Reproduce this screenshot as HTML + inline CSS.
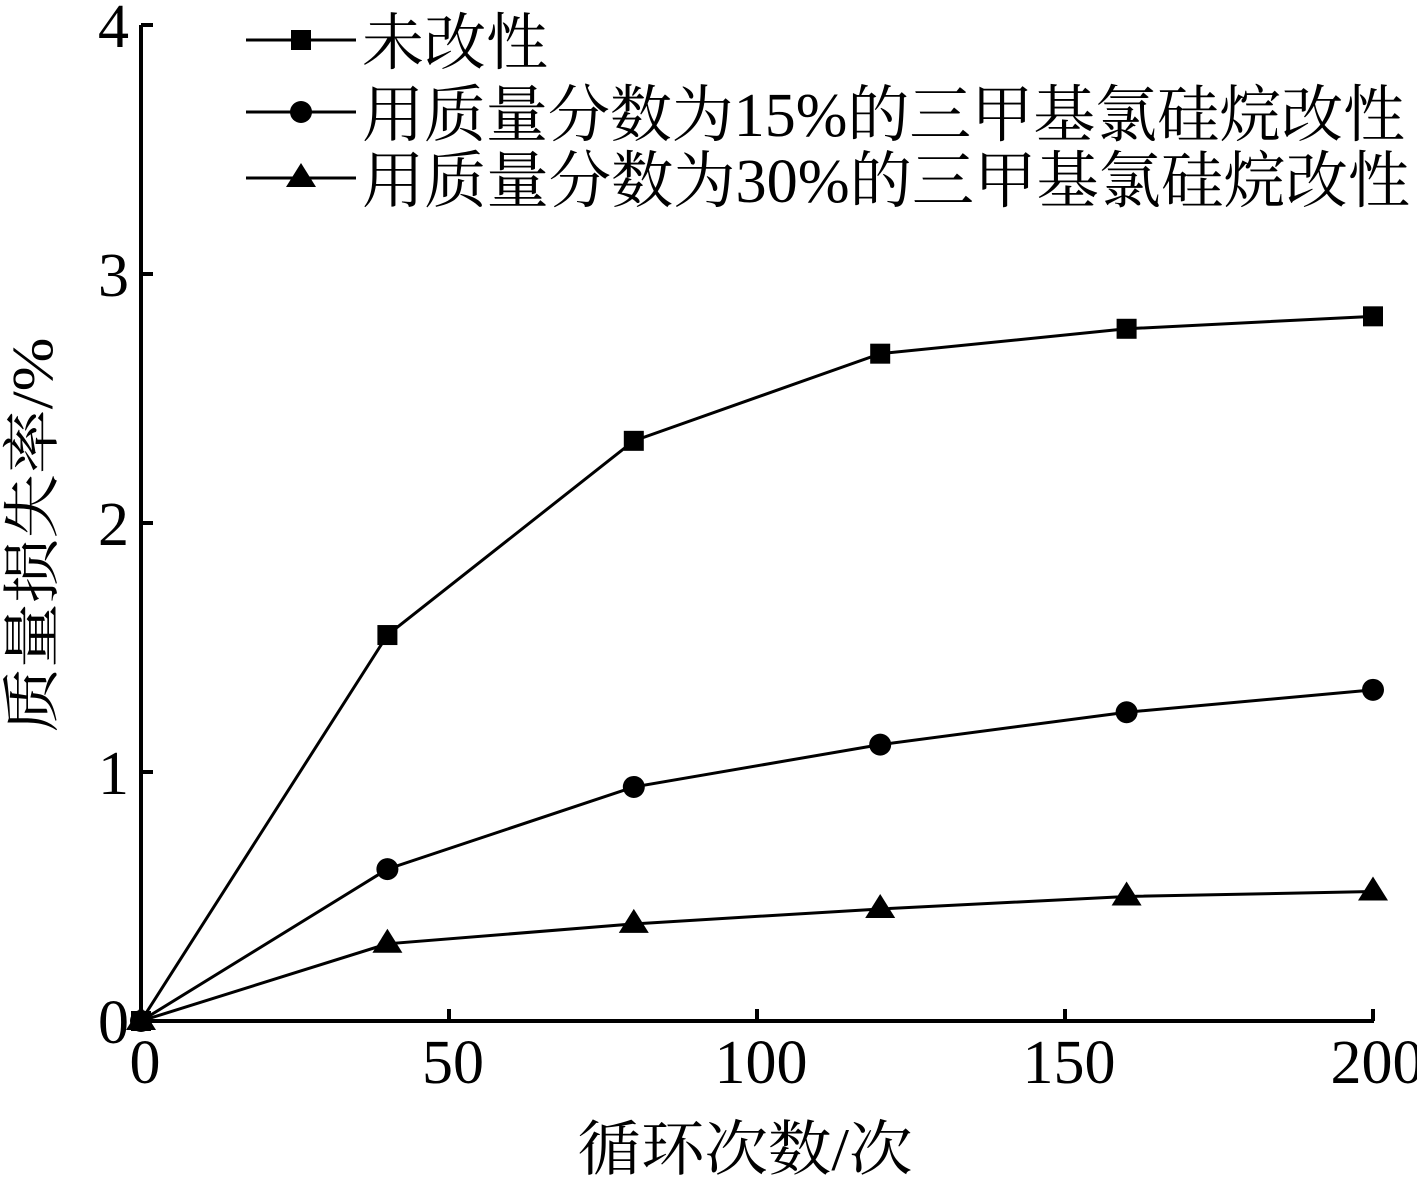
<!DOCTYPE html>
<html><head><meta charset="utf-8"><style>
body{margin:0;background:#fff;}
svg{display:block;font-family:"Liberation Serif","Noto Serif CJK SC",serif;}
</style></head><body>
<svg id="chart" width="1417" height="1181" viewBox="0 0 1417 1181">
<g id="axes"></g>
<g id="series"></g>
<g id="legend"></g>
<text x="52" y="535" font-size="58" text-anchor="middle" textLength="395" lengthAdjust="spacingAndGlyphs" transform="rotate(-90 52 535)">质量损失率/%</text>
<text x="745" y="1170" font-size="60" text-anchor="middle" textLength="335" lengthAdjust="spacingAndGlyphs">循环次数/次</text>
</svg>
<script>
const xs = [0, 40, 80, 120, 160, 200];
const unmodified = [0, 1.55, 2.33, 2.68, 2.78, 2.83];
const modified15 = [0, 0.61, 0.94, 1.11, 1.24, 1.33];
const modified30 = [0, 0.31, 0.39, 0.45, 0.50, 0.52];
const xTicks = [0, 50, 100, 150, 200];
const yTicks = [0, 1, 2, 3, 4];
const legendLabels = ["未改性", "用质量分数为15%的三甲基氯硅烷改性", "用质量分数为30%的三甲基氯硅烷改性"];

const NS = "http://www.w3.org/2000/svg";
const X0 = 141, X1 = 1373, Y0 = 1021, Y1 = 25;
const sx = v => X0 + (v - 0) / 200 * (X1 - X0);
const sy = v => Y0 - v / 4 * (Y0 - Y1);
function mk(tag, attrs, parent) {
  const e = document.createElementNS(NS, tag);
  for (const k in attrs) e.setAttribute(k, attrs[k]);
  parent.appendChild(e);
  return e;
}
const axes = document.getElementById('axes');
let l = mk('line', {x1: X0, y1: Y1, x2: X0, y2: Y0 + 1, stroke: '#000', 'stroke-width': 4}, axes);


l = mk('line', {x1: X0 - 1, y1: Y0, x2: X1 + 1, y2: Y0, stroke: '#000', 'stroke-width': 4}, axes);


yTicks.forEach(t => {
  const y = sy(t);
  const tk = mk('line', {x1: X0, y1: y, x2: X0 + 12, y2: y, stroke: '#000', 'stroke-width': 4}, axes);
  
  
  const tx = mk('text', {x: X0 - 12, y: y + 22, 'font-size': 62, 'text-anchor': 'end'}, axes);
  tx.textContent = t;
  
  
});
xTicks.forEach(t => {
  const x = sx(t);
  const tk = mk('line', {x1: x, y1: Y0, x2: x, y2: Y0 - 12, stroke: '#000', 'stroke-width': 4}, axes);
  
  
  const tx = mk('text', {x: x + 4, y: Y0 + 62, 'font-size': 62, 'text-anchor': 'middle'}, axes);
  tx.textContent = t;
  
  
});
function marker(type, x, y, parent) {
  let m;
  if (type === 'square') m = mk('rect', {x: x - 10, y: y - 10, width: 20, height: 20, fill: '#000'}, parent);
  else if (type === 'circle') m = mk('circle', {cx: x, cy: y, r: 11, fill: '#000'}, parent);
  else m = mk('polygon', {points: `${x},${y - 15} ${x - 15},${y + 9} ${x + 15},${y + 9}`, fill: '#000'}, parent);
  
  
}
const sg = document.getElementById('series');
[[unmodified, 'square', 'series-unmodified'], [modified15, 'circle', 'series-15pct'], [modified30, 'triangle', 'series-30pct']].forEach(([vals, type, name]) => {
  const g = mk('g', {}, sg);
  
  
  const pts = xs.map((x, i) => sx(x) + ',' + sy(vals[i])).join(' ');
  const pl = mk('polyline', {points: pts, fill: 'none', stroke: '#000', 'stroke-width': 3}, g);
  
  
  xs.forEach((x, i) => marker(type, sx(x), sy(vals[i]), g));
});
const lg = document.getElementById('legend');
const ly = [40, 112, 178];
const lens = [186, 1043, 1048];
const types = ['square', 'circle', 'triangle'];
legendLabels.forEach((lab, i) => {
  const g = mk('g', {}, lg);
  
  
  const ln = mk('line', {x1: 246, y1: ly[i], x2: 356, y2: ly[i], stroke: '#000', 'stroke-width': 3}, g);
  
  
  marker(types[i], 301, ly[i], g);
  const tx = mk('text', {x: 362, y: ly[i] + 24, 'font-size': 62, textLength: lens[i], lengthAdjust: 'spacingAndGlyphs'}, g);
  tx.textContent = lab;
  
  
});
</script>
</body></html>
